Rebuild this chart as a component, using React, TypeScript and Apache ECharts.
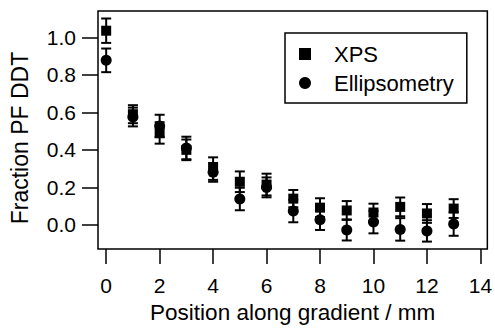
import React, { useEffect, useRef } from "react";
import * as echarts from "echarts";

const positions = [0, 1, 2, 3, 4, 5, 6, 7, 8, 9, 10, 11, 12, 13];
const xpsValues = [1.035, 0.59, 0.49, 0.4, 0.3, 0.23, 0.215, 0.14, 0.092, 0.077, 0.066, 0.096, 0.061, 0.087];
const xpsErrors = [0.065, 0.048, 0.057, 0.055, 0.06, 0.055, 0.058, 0.046, 0.05, 0.05, 0.047, 0.05, 0.05, 0.05];
const ellipValues = [0.877, 0.575, 0.527, 0.41, 0.28, 0.138, 0.2, 0.074, 0.028, -0.027, 0.015, -0.024, -0.032, 0.005];
const ellipErrors = [0.063, 0.05, 0.06, 0.06, 0.05, 0.06, 0.053, 0.06, 0.055, 0.056, 0.06, 0.06, 0.057, 0.063];
const xTicks = [0, 2, 4, 6, 8, 10, 12, 14];
const yTicks = [0, 0.2, 0.4, 0.6, 0.8, 1.0];

const FONT = "Liberation Sans, Arial, Helvetica, sans-serif";

function errorSeries(name: string, vals: number[], errs: number[]) {
  return {
    name,
    type: "custom",
    data: positions.map((p, i) => [p, vals[i] - errs[i], vals[i] + errs[i]]),
    encode: { x: 0, y: [1, 2] },
    z: 2,
    renderItem: (params: any, api: any) => {
      const x = api.value(0);
      const top = api.coord([x, api.value(2)]);
      const bot = api.coord([x, api.value(1)]);
      const hw = 5;
      const style = { stroke: "#000", lineWidth: 2 };
      return {
        type: "group",
        children: [
          { type: "line", shape: { x1: top[0], y1: top[1], x2: bot[0], y2: bot[1] }, style },
          { type: "line", shape: { x1: top[0] - hw, y1: top[1], x2: top[0] + hw, y2: top[1] }, style },
          { type: "line", shape: { x1: bot[0] - hw, y1: bot[1], x2: bot[0] + hw, y2: bot[1] }, style },
        ],
      };
    },
  };
}

export default function App() {
  const ref = useRef<HTMLDivElement>(null);
  useEffect(() => {
    if (!ref.current) return;
    const chart = echarts.init(ref.current, null, { renderer: "svg" });
    chart.setOption({
      animation: false,
      backgroundColor: "#fff",
      textStyle: { fontFamily: FONT, color: "#000" },
      grid: {
        left: 94,
        top: 11,
        width: 395,
        height: 248,
        show: true,
        borderColor: "#000",
        borderWidth: 1.5,
        backgroundColor: "transparent",
      },
      xAxis: {
        type: "value",
        position: "bottom",
        min: -0.306,
        max: 14.26,
        axisLine: { show: false, onZero: false },
        splitLine: { show: false },
        axisTick: {
          show: true,
          inside: false,
          length: 15,
          customValues: xTicks,
          lineStyle: { color: "#000", width: 1.5 },
        },
        axisLabel: {
          customValues: xTicks,
          margin: 26,
          fontSize: 21,
          fontFamily: FONT,
          color: "#000",
        },
        name: "Position along gradient / mm",
        nameLocation: "middle",
        nameGap: 50,
        nameTextStyle: { fontSize: 22.5, fontFamily: FONT, color: "#000" },
      },
      yAxis: {
        type: "value",
        position: "left",
        min: -0.129,
        max: 1.14,
        axisLine: { show: false, onZero: false },
        splitLine: { show: false },
        axisTick: {
          show: true,
          inside: false,
          length: 16,
          customValues: yTicks,
          lineStyle: { color: "#000", width: 1.5 },
        },
        axisLabel: {
          customValues: yTicks,
          margin: 22,
          fontSize: 21,
          fontFamily: FONT,
          color: "#000",
          formatter: (v: number) => v.toFixed(1),
        },
        name: "Fraction PF DDT",
        nameLocation: "middle",
        nameGap: 67,
        nameTextStyle: { fontSize: 23, fontFamily: FONT, color: "#000", padding: [0, 16, 0, 0] },
      },
      legend: {
        left: 285,
        top: 33,
        orient: "vertical",
        borderColor: "#000",
        borderWidth: 1.5,
        padding: [10, 13, 9, 14],
        itemGap: 7,
        itemWidth: 12,
        itemHeight: 12,
        textStyle: { fontSize: 22, fontFamily: FONT, color: "#000", padding: [0, 0, 0, 18], lineHeight: 20 },
        data: [
          { name: "XPS", icon: "rect" },
          { name: "Ellipsometry", icon: "circle" },
        ],
      },
      series: [
        errorSeries("XPS err", xpsValues, xpsErrors),
        errorSeries("Ellipsometry err", ellipValues, ellipErrors),
        {
          name: "XPS",
          type: "scatter",
          symbol: "rect",
          symbolSize: 10,
          itemStyle: { color: "#000", opacity: 1 },
          data: positions.map((p, i) => [p, xpsValues[i]]),
          z: 3,
        },
        {
          name: "Ellipsometry",
          type: "scatter",
          symbol: "circle",
          symbolSize: 11,
          itemStyle: { color: "#000", opacity: 1 },
          data: positions.map((p, i) => [p, ellipValues[i]]),
          z: 3,
        },
      ],
    });
    return () => chart.dispose();
  }, []);
  return (
    <div
      ref={ref}
      style={{ position: "fixed", left: 0, top: 0, width: 495, height: 329 }}
    />
  );
}
